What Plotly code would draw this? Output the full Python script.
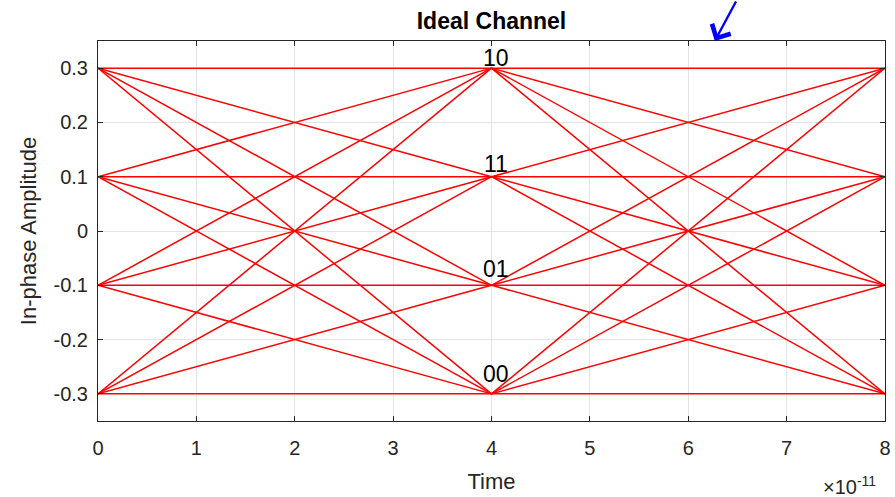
import plotly.graph_objects as go

# PAM4 amplitude levels and symbol timing (seconds)
levels = [-0.3, -0.1, 0.1, 0.3]
symbol_labels = ["00", "01", "11", "10"]
t_start = 0.0
t_mid = 4e-11
t_end = 8e-11
x_scale = 1e-11  # axis shows time in units of 1e-11 s

x_ticks = [0, 1, 2, 3, 4, 5, 6, 7, 8]
y_ticks = [-0.3, -0.2, -0.1, 0, 0.1, 0.2, 0.3]

# every level-to-level transition in both symbol periods of the eye
xs, ys = [], []
for a in levels:
    for b in levels:
        xs += [t_start / x_scale, t_mid / x_scale, None]
        ys += [a, b, None]
        xs += [t_mid / x_scale, t_end / x_scale, None]
        ys += [a, b, None]

fig = go.Figure()
fig.add_trace(go.Scatter(
    x=xs, y=ys, mode="lines",
    line=dict(color="#ff0000", width=1.5),
    hoverinfo="skip", showlegend=False, cliponaxis=False,
))

FONT = "Liberation Sans, Arial, sans-serif"
axis_col = "#262626"
tick_font = dict(family=FONT, size=20, color=axis_col)

fig.update_layout(
    width=895, height=497,
    margin=dict(l=98, r=10, t=41, b=76),
    paper_bgcolor="white", plot_bgcolor="white",
    showlegend=False,
    title=dict(
        text="<b>Ideal Channel</b>",
        x=(98 + 885) / 2 / 895, xanchor="center",
        y=1 - 21 / 497, yanchor="middle",
        font=dict(family=FONT, size=23, color="#000000"),
    ),
    xaxis=dict(
        range=[0, 8], tickvals=x_ticks, ticktext=[str(v) for v in x_ticks],
        showgrid=True, gridcolor="#e3e3e3", gridwidth=1,
        showline=True, linecolor=axis_col, linewidth=1, mirror="ticks",
        ticks="inside", ticklen=5, tickcolor=axis_col,
        tickfont=tick_font, zeroline=False, automargin=False,
        ticklabelstandoff=9,
        title=dict(text="Time", font=dict(family=FONT, size=22, color=axis_col), standoff=15),
    ),
    yaxis=dict(
        range=[-0.35, 0.35], tickvals=y_ticks,
        ticktext=[("%g" % v) for v in y_ticks],
        showgrid=True, gridcolor="#e3e3e3", gridwidth=1,
        showline=True, linecolor=axis_col, linewidth=1, mirror="ticks",
        ticks="inside", ticklen=5, tickcolor=axis_col,
        tickfont=tick_font, zeroline=False, automargin=False,
        ticklabelstandoff=5,
        title=dict(text="In-phase Amplitude", font=dict(family=FONT, size=22, color=axis_col), standoff=10),
    ),
)

# symbol labels at the eye centre, raised a little above each level
label_lift = {"10": 10, "11": 13, "01": 16, "00": 20}
for lv, lab in zip(levels, symbol_labels):
    fig.add_annotation(
        x=t_mid / x_scale + 0.05, y=lv, text=lab, showarrow=False,
        xanchor="center", yanchor="middle", yshift=label_lift[lab],
        font=dict(family=FONT, size=23, color="#000000"),
    )

# exponent label for the time axis
fig.add_annotation(
    xref="paper", yref="paper", x=1.0 - 7 / 787, y=-(485 - 421) / 380,
    text="×10<sup>-11</sup>", showarrow=False,
    xanchor="right", yanchor="middle",
    font=dict(family=FONT, size=20, color=axis_col),
)

# pointer arrow at the top edge
fig.add_annotation(
    x=6.27, y=0.35, text="", showarrow=True,
    ax=22, ay=-48, arrowcolor="#0000ff", arrowwidth=2.4,
    arrowhead=4, arrowsize=1.7,
)

fig.write_html("out.html")
